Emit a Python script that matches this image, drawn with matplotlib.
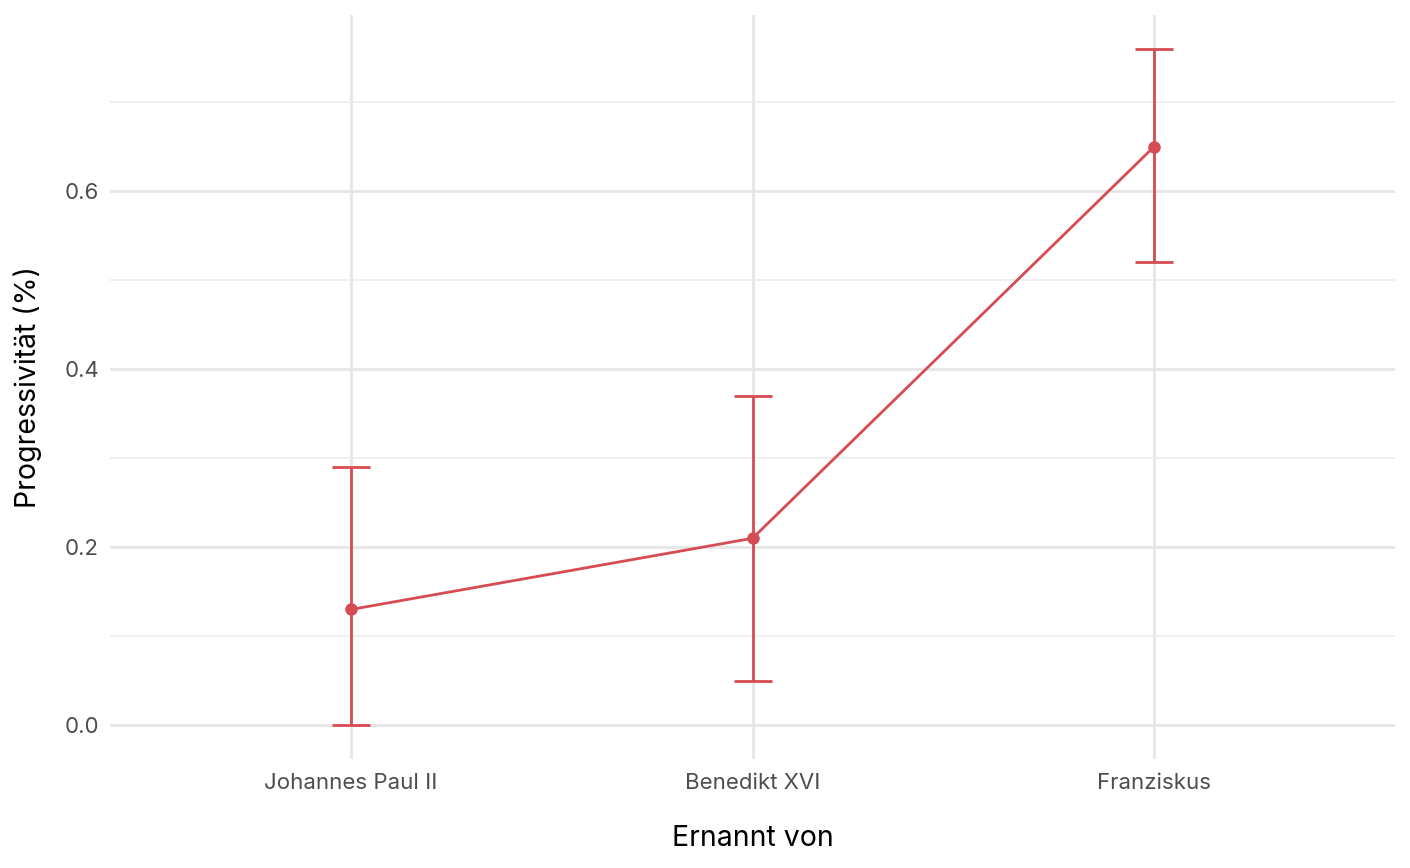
import matplotlib
matplotlib.use("Agg")
import matplotlib.pyplot as plt
from matplotlib.ticker import MultipleLocator

plt.rcParams['font.family'] = ['Inter', 'DejaVu Sans']

categories = ["Johannes Paul II", "Benedikt XVI", "Franziskus"]
estimate = [0.13, 0.21, 0.65]
lower = [0.00, 0.05, 0.52]
upper = [0.29, 0.37, 0.76]

color = "#d64c52"
fig = plt.figure(figsize=(14.1, 8.68), dpi=100)
ax = fig.add_axes([110/1410, 109/868, 1285/1410, 744/868])

x = list(range(len(categories)))
ax.plot(x, estimate, color=color, lw=2, zorder=3)
ax.plot(x, estimate, 'o', color=color, ms=8, zorder=4)
yerr = [[e - l for e, l in zip(estimate, lower)], [u - e for e, u in zip(estimate, upper)]]
ax.errorbar(x, estimate, yerr=yerr, fmt='none', ecolor=color, elinewidth=2,
            capsize=19*0.72, capthick=2, zorder=3)

ax.set_xlim(-0.6, 2.6)
ax.set_ylim(-0.038, 0.798)
ax.set_xticks(x)
ax.set_xticklabels(categories)
ax.yaxis.set_major_locator(MultipleLocator(0.2))
ax.yaxis.set_minor_locator(MultipleLocator(0.1))
ax.yaxis.set_major_formatter(matplotlib.ticker.FormatStrFormatter('%.1f'))

ax.grid(True, which='major', color='#e6e6e6', lw=2)
ax.grid(True, which='minor', axis='y', color='#ececec', lw=1.2)
ax.set_axisbelow(True)
for s in ax.spines.values():
    s.set_visible(False)
ax.tick_params(which='both', length=0)
ax.tick_params(axis='both', labelsize=16, colors='#4d4d4d')
ax.tick_params(axis='x', pad=10)
ax.tick_params(axis='y', pad=8)
ax.set_xlabel("Ernannt von", fontsize=20.5, color='black', labelpad=23)
ax.set_ylabel("Progressivität (%)", fontsize=20.5, color='black', labelpad=16)

fig.savefig("out.png", dpi=100, facecolor='white')
